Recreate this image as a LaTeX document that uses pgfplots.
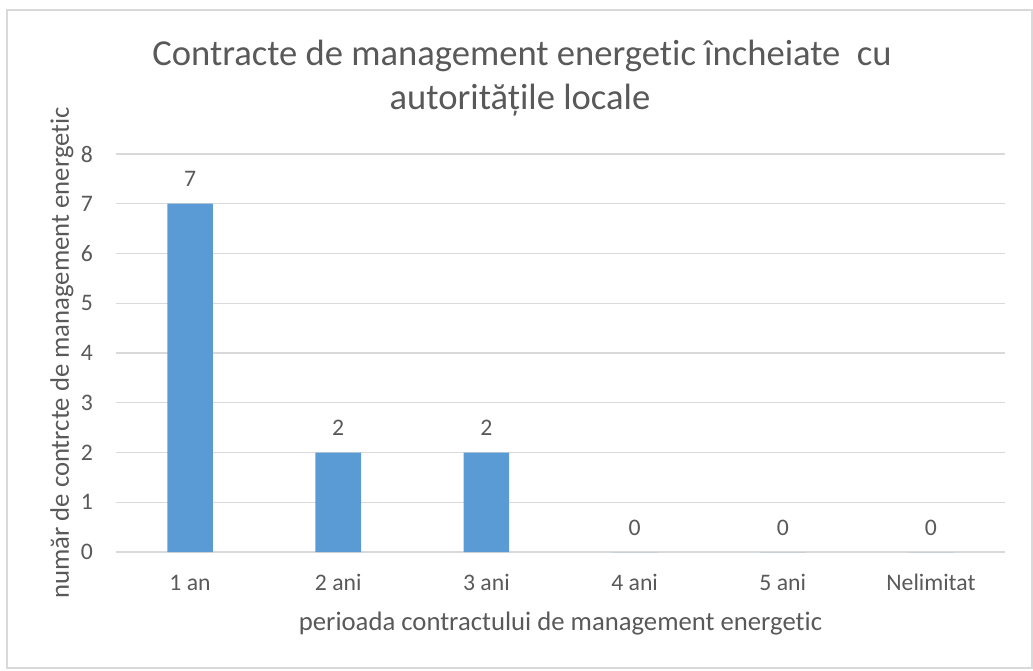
\documentclass[border=0pt]{standalone}
\usepackage{fontspec}
\setmainfont{Carlito}[Ligatures=NoCommon]
\usepackage{pgfplots}
\pgfplotsset{compat=1.18}
\definecolor{txt}{HTML}{595959}
\definecolor{gridc}{HTML}{D9D9D9}
\definecolor{barc}{HTML}{5B9BD5}
\begin{document}
\begin{tikzpicture}[x=1pt,y=1pt]
\useasboundingbox (0,0) rectangle (1033,670);
\draw[gridc, line width=1.3pt] (7,2) rectangle (1032,660);
\node[anchor=base, text=txt, font=\fontsize{36.6}{42}\selectfont] at (522,604) {Contracte de management energetic încheiate\ \ cu};
\node[anchor=base, text=txt, font=\fontsize{36.6}{42}\selectfont] at (520,560) {autoritățile locale};
\begin{axis}[
  at={(116pt,118pt)}, anchor=south west,
  scale only axis, width=889pt, height=398pt,
  ybar, bar width=45.6pt,
  xmin=-0.5, xmax=5.5, ymin=0, ymax=8,
  xtick={0,1,2,3,4,5},
  xticklabels={1 an,2 ani,3 ani,4 ani,5 ani,Nelimitat},
  ytick={0,1,2,3,4,5,6,7,8},
  ymajorgrids, grid style={gridc, line width=1.3pt},
  axis x line*=bottom, axis y line*=left,
  x axis line style={gridc, line width=1.3pt},
  y axis line style={draw=none},
  major tick length=0pt,
  /pgf/number format/assume math mode=true,
  tick label style={text=txt, font=\fontsize{23.7}{28}\selectfont},
  xticklabel style={anchor=base, inner sep=0pt, yshift=-38pt},
  yticklabel style={anchor=east, inner sep=0pt, xshift=-23pt},
  xlabel={perioada contractului de management energetic},
  ylabel={număr de contrcte de management energetic},
  label style={text=txt, font=\fontsize{26.7}{32}\selectfont},
  xlabel style={at={(axis description cs:0.5,-0.196)}, anchor=base, inner sep=0pt},
  ylabel style={at={(axis description cs:-0.0529,0.5)}, anchor=base, rotate=0, inner sep=0pt},
  nodes near coords,
  every node near coord/.append style={anchor=base, inner sep=0pt, yshift=17pt, text=txt, font=\fontsize{23.7}{28}\selectfont},
]
\addplot[fill=barc, draw=none] coordinates {(0,7) (1,2) (2,2) (3,0) (4,0) (5,0)};
\end{axis}
\end{tikzpicture}
\end{document}
